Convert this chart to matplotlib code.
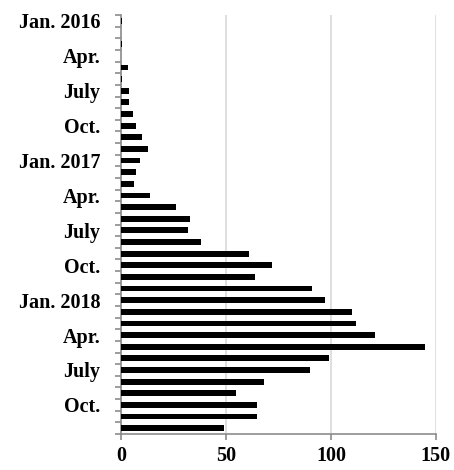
import matplotlib.pyplot as plt
import numpy as np

plt.rcParams['font.family'] = ['Liberation Serif', 'DejaVu Serif']
plt.rcParams['font.weight'] = 'bold'

# monthly values, Jan. 2016 .. Dec. 2018
months = ['Jan. 2016', '', '', 'Apr.', '', '', 'July', '', '', 'Oct.', '', '',
          'Jan. 2017', '', '', 'Apr.', '', '', 'July', '', '', 'Oct.', '', '',
          'Jan. 2018', '', '', 'Apr.', '', '', 'July', '', '', 'Oct.', '', '']
values = [0.5, 0, 0.3, 0, 3.5, 0.5, 4, 4, 5.5, 7, 10, 13,
          9, 7, 6, 14, 26, 33, 32, 38, 61, 72, 64, 91,
          97, 110, 112, 121, 145, 99, 90, 68, 55, 65, 65, 49]
xticks = [0, 50, 100, 150]

fig = plt.figure(figsize=(4.54, 4.70), dpi=100)
ax = fig.add_axes([0.2665, 0.0766, 0.6935, 0.8914])

n = len(values)
pos = np.arange(n)
ax.barh(pos, values, height=0.5, color='black', zorder=3)

ax.set_ylim(n - 0.5, -0.5)
ax.set_xlim(0, 150)

lab_idx = [i for i, m in enumerate(months) if m]
ax.set_yticks(lab_idx)
ax.set_yticklabels([months[i] for i in lab_idx], fontsize=14.5, fontweight='bold')
ax.set_yticks(np.arange(n + 1) - 0.5, minor=True)
ax.tick_params(axis='y', which='major', length=0, pad=15)
ax.tick_params(axis='y', which='minor', length=4, width=1.2, color='#8c8c8c')

ax.set_xticks(xticks)
ax.set_xticklabels([str(t) for t in xticks], fontsize=14.5, fontweight='bold')
ax.tick_params(axis='x', length=4, width=1.2, color='#8c8c8c', pad=5)

ax.grid(axis='x', color='#d9d9d9', linewidth=1.2, zorder=0)
for s in ['top', 'right']:
    ax.spines[s].set_visible(False)
for s in ['left', 'bottom']:
    ax.spines[s].set_color('#8c8c8c')
    ax.spines[s].set_linewidth(1.2)

fig.savefig('out.png', dpi=100)
